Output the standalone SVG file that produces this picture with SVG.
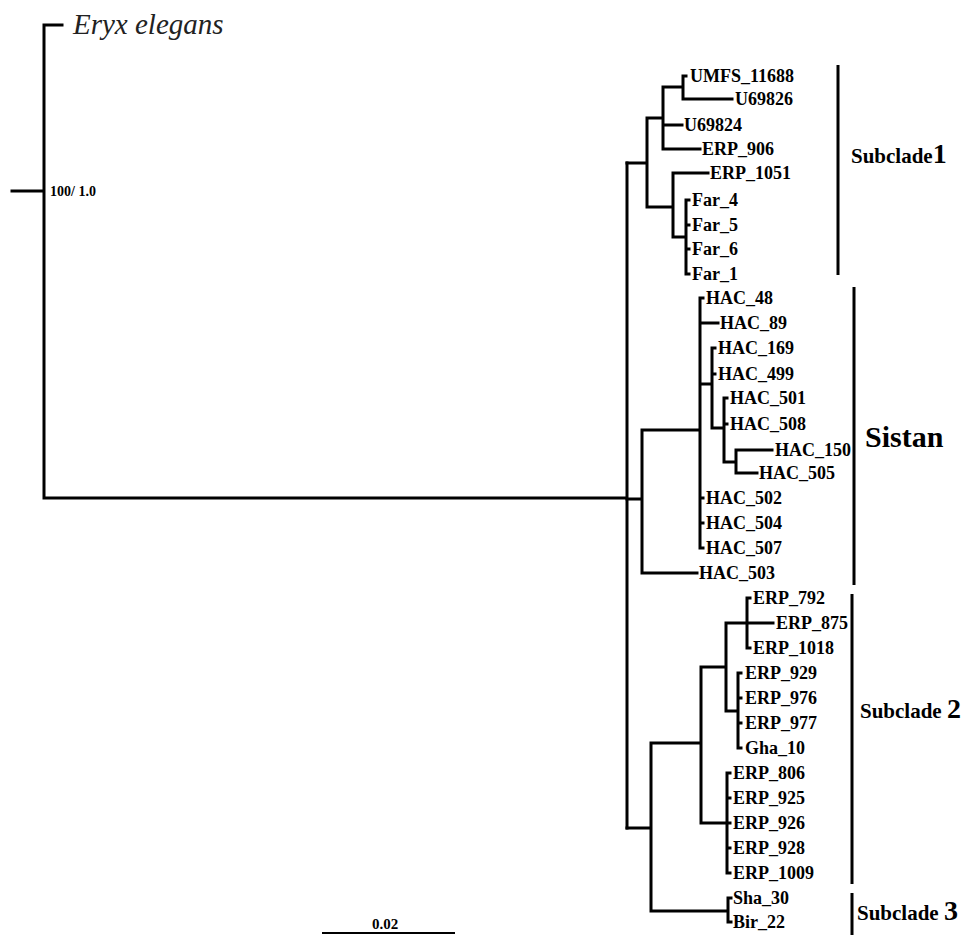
<svg xmlns="http://www.w3.org/2000/svg" width="962" height="935" viewBox="0 0 962 935">
<style>
.br{fill:none;stroke:#000;stroke-width:3;stroke-linecap:square}
.bar{fill:none;stroke:#000;stroke-width:3}
.tip{font-family:"Liberation Serif","Times New Roman",serif;font-weight:bold;font-size:18px;fill:#000}
.sup{font-family:"Liberation Serif","Times New Roman",serif;font-weight:bold;font-size:14px;fill:#000}
.cl{font-family:"Liberation Serif","Times New Roman",serif;font-weight:bold;font-size:21px;fill:#000}
.num{font-size:28px}
.og{font-family:"Liberation Serif","Times New Roman",serif;font-style:italic;font-size:29px;fill:#222}
</style>
<rect width="962" height="935" fill="#fff"/>
<g id="connectors">
<path class="br" d="M12,191H44M44,25V498M44,25H62M44,498H627M627,163V828"/>
<path class="br" d="M627,163H647M647,118V207M647,118H663M663,87V149M663,87H683M683,76V99M683,76H686M683,99H732M663,125H682M663,149H700M647,207H673M673,173V237M673,173H708M673,237H686M686,200V274M686,200H689M686,225H689M686,249H689M686,274H689"/>
<path class="br" d="M627,499H642M642,430V573M642,430H700M642,573H697M700,298V548M700,298H703M700,323H718M700,384H712M712,348V428M712,348H715M712,374H715M712,428H724M724,398V462M724,398H727M724,424H727M724,462H736M736,450V473M736,450H772M736,473H757M700,498H703M700,523H703M700,548H703"/>
<path class="br" d="M627,828H651M651,743V911M651,743H701M701,667V823M701,667H726M726,623V711M726,623H747M747,598V648M747,598H750M747,648H750M747,623H773M726,711H738M738,673V748M738,673H741M738,698H741M738,723H741M738,748H741M701,823H727M727,773V873M727,773H730M727,798H730M727,823H730M727,848H730M727,873H730M651,911H728M728,898V922M728,898H731M728,922H731"/>
<path class="bar" d="M838,65V275M854,287V585M852,594V884M852,893V935"/>
<path fill="none" stroke="#000" stroke-width="2" d="M322,933H455"/>
</g>
<g id="outgroup"><text class="og" x="73" y="34">Eryx elegans</text></g>
<g id="support"><text class="sup" x="50" y="196">100/ 1.0</text></g>
<g id="scale"><text class="sup" x="385" y="929" text-anchor="middle" style="font-size:15px">0.02</text></g>
<g id="tips">
<g id="t-UMFS_11688"><text class="tip" x="690" y="82">UMFS_11688</text></g>
<g id="t-U69826"><text class="tip" x="735" y="105">U69826</text></g>
<g id="t-U69824"><text class="tip" x="684" y="131">U69824</text></g>
<g id="t-ERP_906"><text class="tip" x="702" y="155">ERP_906</text></g>
<g id="t-ERP_1051"><text class="tip" x="710" y="179">ERP_1051</text></g>
<g id="t-Far_4"><text class="tip" x="692" y="206">Far_4</text></g>
<g id="t-Far_5"><text class="tip" x="692" y="231">Far_5</text></g>
<g id="t-Far_6"><text class="tip" x="692" y="255">Far_6</text></g>
<g id="t-Far_1"><text class="tip" x="692" y="280">Far_1</text></g>
<g id="t-HAC_48"><text class="tip" x="706" y="304">HAC_48</text></g>
<g id="t-HAC_89"><text class="tip" x="720" y="329">HAC_89</text></g>
<g id="t-HAC_169"><text class="tip" x="718" y="354">HAC_169</text></g>
<g id="t-HAC_499"><text class="tip" x="718" y="380">HAC_499</text></g>
<g id="t-HAC_501"><text class="tip" x="730" y="404">HAC_501</text></g>
<g id="t-HAC_508"><text class="tip" x="730" y="430">HAC_508</text></g>
<g id="t-HAC_150"><text class="tip" x="775" y="456">HAC_150</text></g>
<g id="t-HAC_505"><text class="tip" x="759" y="479">HAC_505</text></g>
<g id="t-HAC_502"><text class="tip" x="706" y="504">HAC_502</text></g>
<g id="t-HAC_504"><text class="tip" x="706" y="529">HAC_504</text></g>
<g id="t-HAC_507"><text class="tip" x="706" y="554">HAC_507</text></g>
<g id="t-HAC_503"><text class="tip" x="699" y="579">HAC_503</text></g>
<g id="t-ERP_792"><text class="tip" x="753" y="604">ERP_792</text></g>
<g id="t-ERP_875"><text class="tip" x="776" y="629">ERP_875</text></g>
<g id="t-ERP_1018"><text class="tip" x="753" y="654">ERP_1018</text></g>
<g id="t-ERP_929"><text class="tip" x="745" y="679">ERP_929</text></g>
<g id="t-ERP_976"><text class="tip" x="745" y="704">ERP_976</text></g>
<g id="t-ERP_977"><text class="tip" x="745" y="729">ERP_977</text></g>
<g id="t-Gha_10"><text class="tip" x="745" y="754">Gha_10</text></g>
<g id="t-ERP_806"><text class="tip" x="733" y="779">ERP_806</text></g>
<g id="t-ERP_925"><text class="tip" x="733" y="804">ERP_925</text></g>
<g id="t-ERP_926"><text class="tip" x="733" y="829">ERP_926</text></g>
<g id="t-ERP_928"><text class="tip" x="733" y="854">ERP_928</text></g>
<g id="t-ERP_1009"><text class="tip" x="733" y="879">ERP_1009</text></g>
<g id="t-Sha_30"><text class="tip" x="733" y="904">Sha_30</text></g>
<g id="t-Bir_22"><text class="tip" x="733" y="928">Bir_22</text></g>
</g>
<g id="clades">
<g id="c-subclade1"><text class="cl" x="851" y="163">Subclade<tspan class="num">1</tspan></text></g>
<g id="c-sistan"><text class="cl" x="865" y="447" style="font-size:30px">Sistan</text></g>
<g id="c-subclade2"><text class="cl" x="860" y="718">Subclade <tspan class="num">2</tspan></text></g>
<g id="c-subclade3"><text class="cl" x="857" y="920">Subclade <tspan class="num">3</tspan></text></g>
</g>
</svg>
